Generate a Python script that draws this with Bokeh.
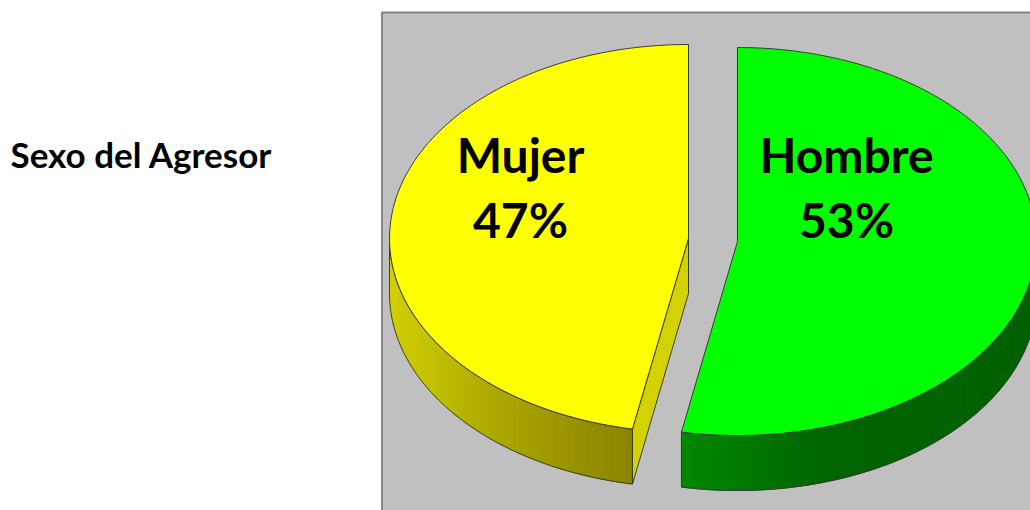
import numpy as np
from bokeh.plotting import figure
from bokeh.models import Range1d, ColumnDataSource
from bokeh.core.properties import value
from bokeh.embed import file_html
from bokeh.resources import INLINE

# ---------------- data ----------------
categories = ["Hombre", "Mujer"]
shares = [53, 47]
pct_labels = ["53%", "47%"]
chart_title = "Sexo del Agresor"

# ---------------- layout / style ----------------
W, H = 1030, 510
CX, CY = 712.5, 239.5      # pie centre (page px)
RX, RY = 299.0, 194.0      # ellipse radii of the tilted pie
DEPTH = 55.0               # thickness of the pie
EXPLODE = 24.6             # explosion distance
top_colors = ["#00ff00", "#ffff00"]
radial_colors = ["#007a00", "#d2d200"]
# side-shade colour stops (angle in degrees, rgb)
side_stops = [
    [(-100.8, (0, 136, 0)), (-72.0, (0, 100, 0)), (0.0, (0, 95, 0))],
    [(-180.0, (214, 214, 0)), (-150.0, (196, 194, 0)), (-100.8, (138, 132, 0))],
]
label_dx = [109, -168]
FONT = "Lato"
EDGE = "#3a3a3a"

p = figure(width=W, height=H, x_range=Range1d(0, W), y_range=Range1d(H, 0),
           output_backend="svg", toolbar_location=None,
           x_axis_type=None, y_axis_type=None, min_border=0,
           background_fill_color="white", border_fill_color="white",
           outline_line_color=None)
p.xgrid.visible = False
p.ygrid.visible = False

# plot-area box
p.quad(left=[381.5], right=[1200], top=[12], bottom=[700],
       fill_color="#c0c0c0", line_color="#858585", line_width=2)


def pt(cx, cy, a):
    a = np.radians(a)
    return cx + RX * np.cos(a), cy - RY * np.sin(a)


def shade(stops, a):
    for (a0, c0), (a1, c1) in zip(stops[:-1], stops[1:]):
        if a0 <= a <= a1:
            t = (a - a0) / (a1 - a0) if a1 != a0 else 0
            c = [int(round(c0[k] + t * (c1[k] - c0[k]))) for k in range(3)]
            return "#%02x%02x%02x" % tuple(c)
    c = stops[0][1] if a < stops[0][0] else stops[-1][1]
    return "#%02x%02x%02x" % c


total = float(sum(shares))
cum = 0.0
tops, sides, radials = [], [], []
for i, s in enumerate(shares):
    a0 = 90.0 - cum / total * 360.0
    cum += s
    a1 = 90.0 - cum / total * 360.0
    mid = (a0 + a1) / 2.0
    mr = np.radians(mid)
    cx = CX + EXPLODE * np.cos(mr)
    cy = CY - EXPLODE * RY / RX * np.sin(mr)
    ang = np.linspace(a0, a1, 200)
    ax, ay = pt(cx, cy, ang)
    tops.append(dict(xs=[cx] + list(ax), ys=[cy] + list(ay), c=top_colors[i], cx=cx, cy=cy))

    # radial faces
    for a, nrm in ((a0, a0 + 90.0), (a1, a1 - 90.0)):
        if np.sin(np.radians(nrm)) < -1e-6:
            ex, ey = pt(cx, cy, a)
            radials.append(dict(xs=[cx, ex, ex, cx], ys=[cy, ey, ey + DEPTH, cy + DEPTH],
                                c=radial_colors[i]))

    # outer side (front half only)
    lo, hi = min(a0, a1), max(a0, a1)
    for k in (-1, 0):
        f0, f1 = -180.0 + 360.0 * (k + 1) - 360.0, 0.0 + 360.0 * (k + 1) - 360.0
        s0, s1 = max(lo, f0), min(hi, f1)
        if s1 - s0 > 0.01:
            n = 80
            edges = np.linspace(s0, s1, n + 1)
            strips_x, strips_y, cols = [], [], []
            for j in range(n):
                e0, e1 = edges[j], edges[j + 1]
                x0, y0 = pt(cx, cy, e0)
                x1, y1 = pt(cx, cy, e1)
                strips_x.append([x0, x1, x1, x0])
                strips_y.append([y0, y1, y1 + DEPTH, y0 + DEPTH])
                cols.append(shade(side_stops[i], (e0 + e1) / 2.0 - (360.0 if (e0 + e1) / 2.0 > 0.5 else 0)))
            fa = np.linspace(s0, s1, 120)
            ox, oy = pt(cx, cy, fa)
            sides.append(dict(sx=strips_x, sy=strips_y, c=cols,
                              ox=list(ox) + list(ox[::-1]),
                              oy=list(oy) + list((oy + DEPTH)[::-1])))

# draw sides
for sd in sides:
    p.patches(xs=sd["sx"], ys=sd["sy"], fill_color=sd["c"], line_color=sd["c"], line_width=1)
    p.patch(x=sd["ox"], y=sd["oy"], fill_color=None, line_color=EDGE, line_width=1)
for rd in radials:
    p.patch(x=rd["xs"], y=rd["ys"], fill_color=rd["c"], line_color=EDGE, line_width=1)
for tp in tops:
    p.patch(x=tp["xs"], y=tp["ys"], fill_color=tp["c"], line_color=EDGE, line_width=1)

# labels
lab_src = ColumnDataSource(dict(
    x=[tops[i]["cx"] + label_dx[i] for i in range(len(categories))],
    y1=[CY - 86 for _ in categories],
    y2=[CY - 21 for _ in categories],
    name=categories, pct=pct_labels))
p.text(x="x", y="y1", text="name", source=lab_src, text_align="center",
       text_baseline="alphabetic", text_font=value(FONT), text_font_style="bold",
       text_font_size="48px", text_color="black")
p.text(x="x", y="y2", text="pct", source=lab_src, text_align="center",
       text_baseline="alphabetic", text_font=value(FONT), text_font_style="bold",
       text_font_size="48px", text_color="black")

# title
p.text(x=[10], y=[153], text=[chart_title], text_align="left", text_baseline="alphabetic",
       text_font=value(FONT), text_font_style="bold", text_font_size="35px", text_color="black")

open("out.html", "w").write(file_html(p, INLINE))
